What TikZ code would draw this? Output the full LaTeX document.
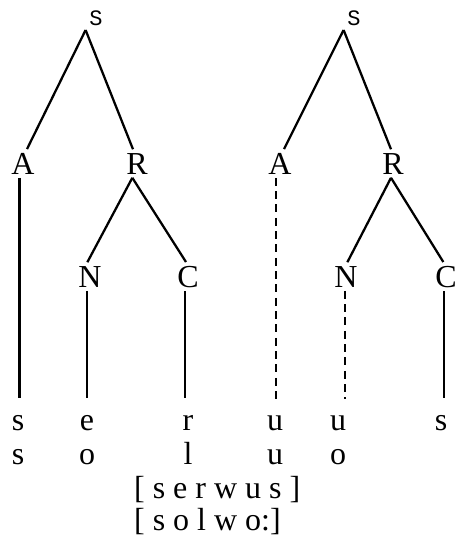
\documentclass[tikz,border=0pt]{standalone}
\usepackage{fontspec}
\setmainfont{Liberation Serif}
\newfontfamily\monofam{Liberation Mono}
\def\labfont{\fontsize{24}{28}\selectfont}
\def\rootfont{\monofam\fontsize{16.5}{18}\selectfont}
\tikzset{
	root/.style={font=\rootfont, inner sep=2pt, anchor=base},
	lab/.style={font=\labfont, inner sep=2pt, anchor=base},
	seg/.style={font=\labfont, inner sep=2pt, anchor=base},
	trans/.style={font=\labfont, inner sep=0pt, anchor=base west},
	stem/.style={shorten >=9.5pt},
	gapline/.style={dash pattern=on 5.8pt off 4.2pt}
}

\begin{document}
\begin{tikzpicture}[x=0.75pt, y=-0.75pt, line width=1.7pt]
			%%%%% START %%%%%
			\useasboundingbox (0,0) rectangle (454,539);
			
			% serwus
			\node[root] (sL) at (96,26) {S};
			\node[lab] (aL) at (23,174) {A};
			\node[lab] (rL) at (137,174) {R};
			\node[lab] (nL) at (90,287) {N};
			\node[lab] (cL) at (188,287) {C};
			
			% solwo:
			\node[root] (sR) at (354,26) {S};
			\node[lab] (aR) at (280,174) {A};
			\node[lab] (rR) at (393,174) {R};
			\node[lab] (nR) at (346,287) {N};
			\node[lab] (cR) at (446,287) {C};
			
			\node[seg] (pa1) at (18,430) {s};
			\node[seg] (pe1) at (87,430) {e};
			\node[seg] (pr1) at (188,430) {r};
			\node[seg] (pu1) at (275,430) {u};
			\node[seg] (pu2) at (338,430) {u};
			\node[seg] (ps2) at (441,430) {s};
			
			\node[seg] (qs1) at (18,464) {s};
			\node[seg] (qo1) at (87,464) {o};
			\node[seg] (ql1) at (188,464) {l};
			\node[seg] (qu1) at (275,464) {u};
			\node[seg] (qo2) at (338,464) {o};
			
			\node[trans] (tr1) at (133,498) {[ s e r w u s ]};
			\node[trans] (tr2) at (133,530) {[ s o l w o:]};
			
			\draw (sL.south west) -- ([xshift=3pt]aL.north);
			\draw (sL.south west) -- ([xshift=-3pt]rL.north);
			\draw ([xshift=-3.5pt]rL.south) -- ([xshift=-2pt]nL.north);
			\draw ([xshift=-3.5pt]rL.south) -- ([xshift=-1.5pt]cL.north);
			\draw[stem] ([xshift=-2.6pt]aL.south) -- ([xshift=-2.6pt]aL.south |- pa1.north);
			\draw[stem] ([xshift=-2pt]nL.south) -- ([xshift=-2pt]nL.south |- pe1.north);
			\draw[stem] ([xshift=-2pt]cL.south) -- ([xshift=-2pt]cL.south |- pr1.north);
			
			\draw (sR.south west) -- ([xshift=3pt]aR.north);
			\draw (sR.south west) -- ([xshift=-1.5pt]rR.north);
			\draw ([xshift=-1.5pt]rR.south) -- ([xshift=1pt]nR.north);
			\draw ([xshift=-1.5pt]rR.south) -- ([xshift=-2pt]cR.north);
			\draw[stem, gapline] ([xshift=-3pt]aR.south) -- ([xshift=-3pt]aR.south |- pu1.north);
			\draw[stem, gapline] ([xshift=-0.7pt]nR.south) -- ([xshift=-0.7pt]nR.south |- pu2.north);
			\draw[stem] ([xshift=-1.5pt]cR.south) -- ([xshift=-1.5pt]cR.south |- ps2.north);
			
			%%%%% END %%%%%
\end{tikzpicture}
\end{document}
